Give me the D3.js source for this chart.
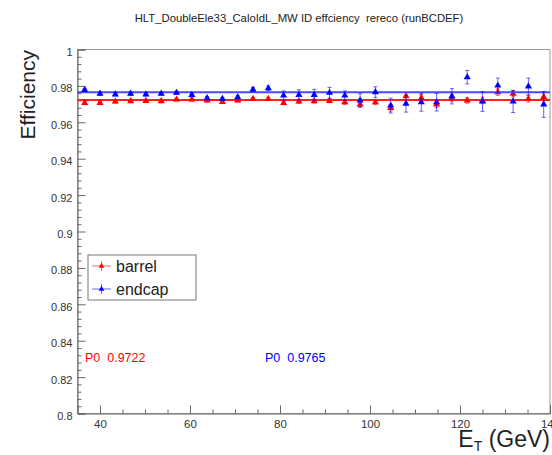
<!DOCTYPE html>
<html>
<head>
<meta charset="utf-8">
<script src="https://cdn.jsdelivr.net/npm/d3@7"></script>
<style>
  body { margin: 0; background: #fff; }
  text { font-family: "Liberation Sans", Arial, sans-serif; white-space: pre; }
</style>
</head>
<body>
<div id="chart"></div>
<script>
// bin centers (GeV)
const etBins = [36.6, 40.0, 43.4, 46.8, 50.2, 53.6, 57.0, 60.4, 63.8, 67.2, 70.6,
  74.0, 77.4, 80.8, 84.2, 87.6, 91.0, 94.4, 97.8, 101.2, 104.6, 108.0, 111.4,
  114.8, 118.2, 121.6, 125.0, 128.4, 131.8, 135.2, 138.6]

const barrelEff = [0.9707, 0.9707, 0.9714, 0.9716, 0.9718, 0.9716, 0.9725, 0.9725,
  0.9720, 0.9712, 0.9720, 0.9729, 0.9729, 0.9707, 0.9714, 0.9716, 0.9718, 0.9710,
  0.9698, 0.9710, 0.9679, 0.9743, 0.9734, 0.9698, 0.9734, 0.9720, 0.9720, 0.9766,
  0.9757, 0.9729, 0.9740]
const barrelErr = [0.0008, 0.0008, 0.0008, 0.0008, 0.0008, 0.0008, 0.0008, 0.0008,
  0.0008, 0.0008, 0.0008, 0.0008, 0.0008, 0.0010, 0.0010, 0.0010, 0.0010, 0.0012,
  0.0015, 0.0012, 0.0018, 0.0018, 0.0018, 0.0018, 0.0018, 0.0015, 0.0018, 0.0018,
  0.0018, 0.0018, 0.0020]

const endcapEff = [0.9778, 0.9757, 0.9753, 0.9757, 0.9753, 0.9757, 0.9762, 0.9751,
  0.9733, 0.9729, 0.9738, 0.9780, 0.9787, 0.9747, 0.9751, 0.9751, 0.9762, 0.9747,
  0.9720, 0.9766, 0.9692, 0.9702, 0.9710, 0.9710, 0.9743, 0.9848, 0.9714, 0.9802,
  0.9714, 0.9797, 0.9698]
const endcapErr = [0.0008, 0.0008, 0.0008, 0.0008, 0.0008, 0.0008, 0.0008, 0.0008,
  0.0008, 0.0008, 0.0008, 0.0012, 0.0013, 0.0025, 0.0028, 0.0030, 0.0030, 0.0025,
  0.0037, 0.0029, 0.0041, 0.0046, 0.0049, 0.0048, 0.0042, 0.0037, 0.0054, 0.0041,
  0.0060, 0.0046, 0.0071]

// fit constants (P0)
const fitP0 = [0.9722, 0.9765]
const seriesNames = ["barrel", "endcap"]
const seriesColors = ["#ff0000", "#0000ff"]
const fitColors = ["#ff2020", "#4a4aff"]

const xMajor = [40, 60, 80, 100, 120, 140]
const xMinor = [45, 50, 55, 65, 70, 75, 85, 90, 95, 105, 110, 115, 125, 130, 135]
const yMajor = [0.8, 0.82, 0.84, 0.86, 0.88, 0.9, 0.92, 0.94, 0.96, 0.98, 1]
const yMinor = [0.804, 0.808, 0.812, 0.816, 0.824, 0.828, 0.832, 0.836, 0.844, 0.848,
  0.852, 0.856, 0.864, 0.868, 0.872, 0.876, 0.884, 0.888, 0.892, 0.896, 0.904,
  0.908, 0.912, 0.916, 0.924, 0.928, 0.932, 0.936, 0.944, 0.948, 0.952, 0.956,
  0.964, 0.968, 0.972, 0.976, 0.984, 0.988, 0.992, 0.996]

const width = 552, height = 455
const marginL = 77.5, frameR = 550, frameT = 49.5, frameB = 413.5
const axisColor = "#666"

const svg = d3.select("#chart").append("svg")
  .attr("width", width)
  .attr("height", height)

const x = d3.scaleLinear().domain([35, 140]).range([marginL, frameR])
const y = d3.scaleLinear().domain([0.8, 1]).range([frameB, frameT])

// title
svg.append("text")
  .attr("x", 299).attr("y", 22)
  .attr("text-anchor", "middle")
  .style("font-size", "11.3px")
  .attr("fill", "#222")
  .text("HLT_DoubleEle33_CaloIdL_MW ID effciency  rereco (runBCDEF)")

// frame
svg.append("rect")
  .attr("x", marginL).attr("y", frameT)
  .attr("width", frameR - marginL).attr("height", frameB - frameT)
  .attr("fill", "none").attr("stroke", "#999")

// x axis
svg.append("g")
  .attr("transform", `translate(0,${frameB})`)
  .call(d3.axisBottom(x).tickValues(xMajor).tickSize(-8).tickPadding(6)
    .tickFormat(d3.format("d")))
  .call(g => g.select(".domain").attr("stroke", axisColor))
  .call(g => g.selectAll(".tick line").attr("stroke", axisColor))
  .call(g => g.selectAll("text").style("font-size", "11.5px").attr("fill", "#333")
    .style("font-family", "Liberation Sans, Arial, sans-serif"))
svg.append("g")
  .attr("transform", `translate(0,${frameB})`)
  .call(d3.axisBottom(x).tickValues(xMinor).tickSize(-4).tickFormat(""))
  .call(g => g.select(".domain").remove())
  .call(g => g.selectAll(".tick line").attr("stroke", axisColor))

// y axis
svg.append("g")
  .attr("transform", `translate(${marginL},0)`)
  .call(d3.axisLeft(y).tickValues(yMajor).tickSize(-8).tickPadding(5)
    .tickFormat(d3.format("~g")))
  .call(g => g.select(".domain").attr("stroke", axisColor))
  .call(g => g.selectAll(".tick line").attr("stroke", axisColor))
  .call(g => g.selectAll("text").style("font-size", "11px").attr("fill", "#333")
    .attr("dy", "0.55em")
    .style("font-family", "Liberation Sans, Arial, sans-serif"))
svg.append("g")
  .attr("transform", `translate(${marginL},0)`)
  .call(d3.axisLeft(y).tickValues(yMinor).tickSize(-4).tickFormat(""))
  .call(g => g.select(".domain").remove())
  .call(g => g.selectAll(".tick line").attr("stroke", axisColor))

// axis titles
svg.append("text")
  .attr("transform", "translate(35,50) rotate(-90)")
  .attr("text-anchor", "end")
  .style("font-size", "21px")
  .attr("fill", "#222")
  .text("Efficiency")

const xTitle = svg.append("text")
  .attr("x", frameR).attr("y", 447)
  .attr("text-anchor", "end")
  .style("font-size", "23px")
  .attr("fill", "#222")
xTitle.append("tspan").text("E")
xTitle.append("tspan").attr("dy", 4).style("font-size", "14px").text("T")
xTitle.append("tspan").attr("dy", -4).text(" (GeV)")

const triangle = d3.symbol().type(d3.symbolTriangle).size(22)

function drawSeries(eff, err, i) {
  const color = seriesColors[i]
  const pts = etBins.map((e, k) => ({ e: e, v: eff[k], err: err[k] }))
  const g = svg.append("g")

  // fit line
  g.append("line")
    .attr("x1", x(35)).attr("x2", x(140))
    .attr("y1", y(fitP0[i])).attr("y2", y(fitP0[i]))
    .attr("stroke", fitColors[i]).attr("stroke-width", 2)

  g.selectAll(".err")
    .data(pts)
    .join("line")
    .attr("class", "err")
    .attr("x1", d => x(d.e)).attr("x2", d => x(d.e))
    .attr("y1", d => y(d.v + d.err)).attr("y2", d => y(d.v - d.err))
    .attr("stroke", color).attr("stroke-opacity", 0.6)
  ;[1, -1].forEach(s => {
    g.selectAll(".cap" + (s > 0 ? "u" : "d"))
      .data(pts)
      .join("line")
      .attr("class", "cap" + (s > 0 ? "u" : "d"))
      .attr("x1", d => x(d.e) - 2).attr("x2", d => x(d.e) + 2)
      .attr("y1", d => y(d.v + s * d.err)).attr("y2", d => y(d.v + s * d.err))
      .attr("stroke", color).attr("stroke-opacity", 0.6)
  })
  g.selectAll(".mk")
    .data(pts)
    .join("path")
    .attr("class", "mk")
    .attr("d", triangle)
    .attr("transform", d => `translate(${x(d.e)},${y(d.v)})`)
    .attr("fill", color)
}

drawSeries(barrelEff, barrelErr, 0)
drawSeries(endcapEff, endcapErr, 1)

// legend
const legend = svg.append("g")
legend.append("rect")
  .attr("x", 88).attr("y", 255).attr("width", 108).attr("height", 45)
  .attr("fill", "#fff").attr("stroke", "#777")
seriesNames.forEach((name, i) => {
  const cy = 266 + i * 23
  legend.append("line")
    .attr("x1", 92).attr("x2", 111).attr("y1", cy).attr("y2", cy)
    .attr("stroke", seriesColors[i]).attr("stroke-opacity", 0.6)
  legend.append("line")
    .attr("x1", 101.5).attr("x2", 101.5).attr("y1", cy - 5).attr("y2", cy + 5)
    .attr("stroke", seriesColors[i]).attr("stroke-opacity", 0.6)
  legend.append("path")
    .attr("d", d3.symbol().type(d3.symbolTriangle).size(14))
    .attr("transform", `translate(101.5,${cy})`)
    .attr("fill", seriesColors[i])
  legend.append("text")
    .attr("x", 116).attr("y", cy + 6)
    .style("font-size", "16px")
    .attr("fill", "#222")
    .text(name)
})

// fit results
const fitX = [85, 265]
fitP0.forEach((p, i) => {
  svg.append("text")
    .attr("x", fitX[i]).attr("y", 361.5)
    .style("font-size", "12.5px")
    .attr("fill", seriesColors[i])
    .text("P0  " + p.toFixed(4))
})
</script>
</body>
</html>
